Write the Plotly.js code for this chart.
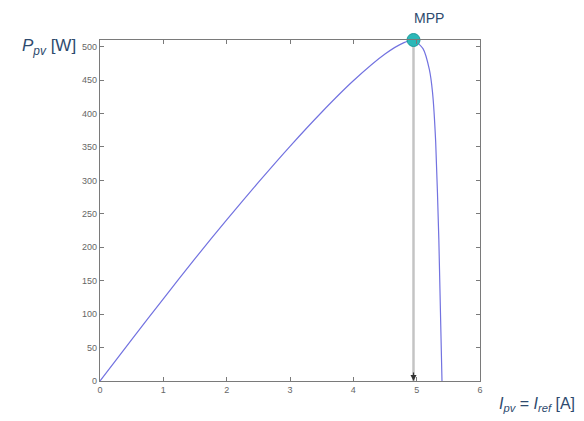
<!DOCTYPE html>
<html>
<head>
<meta charset="utf-8">
<script src="https://cdn.plot.ly/plotly-3.0.1.min.js"></script>
<style>html,body{margin:0;padding:0;background:#fff;}#chart{width:584px;height:421px;}</style>
</head>
<body>
<div id="chart"></div>
<script>
// P-I curve of the PV module
const currentA = [0, 0.5, 1, 1.5, 2, 2.5, 3, 3.5, 4, 4.5, 4.8, 4.95, 5.1, 5.2, 5.25, 5.3, 5.35, 5.4];
const powerW   = [0, 62, 123, 183, 241, 297, 351, 402, 449, 489, 506, 510, 497, 466, 432, 358, 212, 0];
const mppI = [4.95];
const mppP = [510];
const xTicks = [0, 1, 2, 3, 4, 5, 6];
const yTicks = [0, 50, 100, 150, 200, 250, 300, 350, 400, 450, 500];

const textColor = '#2e4a6e';
const font = 'Liberation Sans, Arial, sans-serif';

const traces = [
  {
    x: [mppI[0], mppI[0]], y: [mppP[0], 0],
    mode: 'lines', line: {color: '#c4c4c4', width: 2.5},
    hoverinfo: 'skip', showlegend: false
  },
  {
    x: currentA, y: powerW,
    mode: 'lines', line: {color: '#7272e0', width: 1.2, shape: 'spline', smoothing: 0.6},
    showlegend: false
  },
  {
    x: mppI, y: mppP,
    mode: 'markers', marker: {color: '#2bb8b8', size: 13, line: {color: '#1c9a9a', width: 1}},
    showlegend: false, cliponaxis: false
  }
];

const axisCommon = {
  showgrid: false, zeroline: false,
  showline: true, linecolor: '#7a7a7a', linewidth: 1.2,
  mirror: 'ticks', ticks: 'inside', ticklen: 4, tickcolor: '#7a7a7a',
  tickfont: {family: font, size: 9, color: '#666'}
};

const layout = {
  width: 584, height: 421,
  margin: {l: 100, r: 104, t: 40, b: 40},
  paper_bgcolor: '#fff', plot_bgcolor: '#fff',
  font: {family: font},
  xaxis: Object.assign({}, axisCommon, {range: [0, 6], tickvals: xTicks, ticktext: xTicks.map(String)}),
  yaxis: Object.assign({}, axisCommon, {range: [0, 510], tickvals: yTicks, ticktext: yTicks.map(String)}),
  annotations: [
    {
      x: mppI[0], y: 0, xref: 'x', yref: 'y',
      ax: 0, ay: -10, showarrow: true, arrowhead: 2, arrowsize: 1, arrowwidth: 1.2,
      arrowcolor: '#333', text: ''
    },
    {
      text: 'MPP', xref: 'paper', yref: 'paper', x: 0.865, y: 1.065,
      xanchor: 'center', yanchor: 'middle', showarrow: false,
      font: {family: font, size: 14, color: textColor}
    },
    {
      text: '<i>P</i><sub><i>pv</i></sub> [W]', xref: 'paper', yref: 'paper', x: -0.21, y: 0.98,
      xanchor: 'left', yanchor: 'middle', showarrow: false,
      font: {family: font, size: 17, color: textColor}
    },
    {
      text: '<i>I</i><sub><i>pv</i></sub> = <i>I</i><sub><i>ref</i></sub> [A]', xref: 'paper', yref: 'paper', x: 1.045, y: -0.07,
      xanchor: 'left', yanchor: 'middle', showarrow: false,
      font: {family: font, size: 16, color: textColor}
    }
  ]
};

Plotly.newPlot('chart', traces, layout, {displayModeBar: false, staticPlot: true});
</script>
</body>
</html>
